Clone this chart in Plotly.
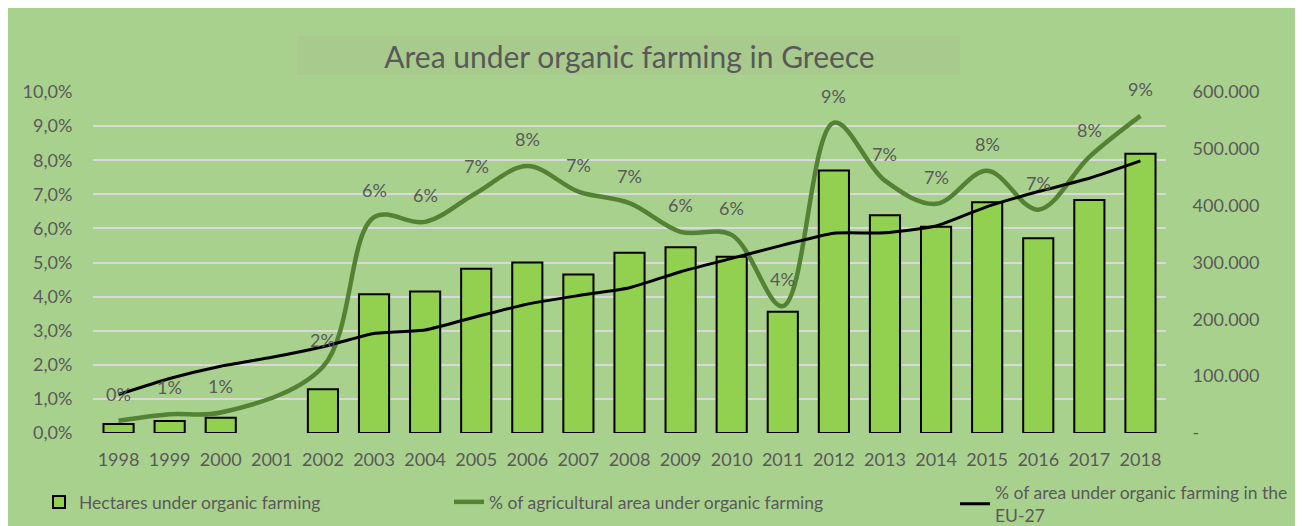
import plotly.graph_objects as go

# dữ liệu
years = [str(y) for y in range(1998, 2019)]
hectares = [16000, 21000, 27000, None, 77000, 244000, 249000, 289000, 300000, 279000,
            317000, 327000, 310000, 213500, 461700, 383000, 363000, 406000, 342700,
            410000, 491500]
pct_greece = [0.0036, 0.0055, 0.0060, None, 0.0194, 0.0633, 0.0619, 0.0704, 0.0783,
              0.0708, 0.0674, 0.0590, 0.0581, 0.0372, 0.0910, 0.0740, 0.0672, 0.0769,
              0.0655, 0.0810, 0.0930]
pct_eu27 = [0.0113, 0.0160, 0.0196, 0.0222, 0.0253, 0.0292, 0.0302, 0.0341, 0.0378,
            0.0403, 0.0426, 0.0473, 0.0512, 0.0551, 0.0586, 0.0587, 0.0607, 0.0664,
            0.0708, 0.0747, 0.0798]
right_ticks = [0, 100000, 200000, 300000, 400000, 500000, 600000]
right_tick_text = ['-', '100.000', '200.000', '300.000', '400.000', '500.000', '600.000']

FONT = 'Lato'
GREY = '#595959'
BG = '#A9D18E'

# kích thước (trang có lề body 8px)
W, H = 1295, 518
L, R, T, B = 85, 137, 84, 93
PW, PH = W - L - R, H - T - B


def px_x(v):
    return (v - L) / PW


def px_y(v):
    return (H - B - v) / PH


fig = go.Figure()

fig.add_trace(go.Bar(
    x=years, y=hectares,
    name='Hectares under organic farming',
    marker=dict(color='#92D050', line=dict(color='black', width=2)),
    yaxis='y', legend='legend', showlegend=True
))

fig.add_trace(go.Scatter(
    x=years, y=pct_greece,
    name='% of agricultural area under organic farming',
    mode='lines', line=dict(color='#548235', width=4.5, shape='spline', smoothing=1),
    connectgaps=True, yaxis='y2', legend='legend2', showlegend=True
))

fig.add_trace(go.Scatter(
    x=years, y=pct_eu27,
    name='% of area under organic farming in the<br>EU-27',
    mode='lines', line=dict(color='black', width=3, shape='spline', smoothing=0.5),
    yaxis='y2', legend='legend3', showlegend=True
))

# nhãn % phía trên đường xanh (x theo chỉ số danh mục)
for i, v in enumerate(pct_greece):
    if v is None:
        continue
    fig.add_annotation(
        x=i, y=v, xref='x', yref='y2', text=f'{v * 100:.0f}%',
        showarrow=False, yshift=27, font=dict(family=FONT, size=18, color=GREY)
    )

# nền xanh và khung tiêu đề
fig.add_shape(type='rect', xref='paper', yref='paper',
              x0=px_x(-2), x1=px_x(1288), y0=px_y(H + 2), y1=px_y(-2),
              fillcolor=BG, line=dict(width=0), layer='below')
fig.add_shape(type='rect', xref='paper', yref='paper',
              x0=px_x(289), x1=px_x(952), y0=px_y(67), y1=px_y(28),
              fillcolor='#A8CB8D', line=dict(width=0), layer='below')

legend_common = dict(orientation='h', bgcolor='rgba(0,0,0,0)', yanchor='middle',
                     font=dict(family=FONT, size=17.5, color=GREY))

fig.update_layout(
    width=W, height=H,
    margin=dict(l=L, r=R, t=T, b=B, autoexpand=False),
    paper_bgcolor='white', plot_bgcolor='rgba(0,0,0,0)',
    separators=',.',
    bargap=0.41,
    showlegend=True,
    font=dict(family=FONT, color=GREY),
    title=dict(text='Area under organic farming in Greece', x=0.5, xanchor='center',
               xref='paper', y=1 - 49 / H, yanchor='middle', yref='container',
               font=dict(family=FONT, size=30, color=GREY)),
    xaxis=dict(type='category', range=[-0.5, len(years) - 0.5],
               showgrid=False, showline=False,
               ticks='outside', ticklen=10, tickcolor='rgba(0,0,0,0)',
               tickfont=dict(family=FONT, size=18, color=GREY)),
    yaxis=dict(side='right', range=[0, 600000], showgrid=False, zeroline=False,
               tickvals=right_ticks, ticktext=right_tick_text,
               ticks='outside', ticklen=22, tickcolor='rgba(0,0,0,0)',
               tickfont=dict(family=FONT, size=18, color=GREY)),
    yaxis2=dict(side='left', overlaying='y', range=[0, 0.1], dtick=0.01,
                tickformat='.1%', showgrid=True, gridcolor='#D9D9D9', gridwidth=2,
                zeroline=False, ticks='outside', ticklen=16,
                tickcolor='rgba(0,0,0,0)',
                tickfont=dict(family=FONT, size=18, color=GREY)),
    legend=dict(x=px_x(31), y=px_y(494), **legend_common),
    legend2=dict(x=px_x(441), y=px_y(494), **legend_common),
    legend3=dict(x=px_x(947), y=px_y(496), **legend_common),
)

fig.write_html('out.html')
